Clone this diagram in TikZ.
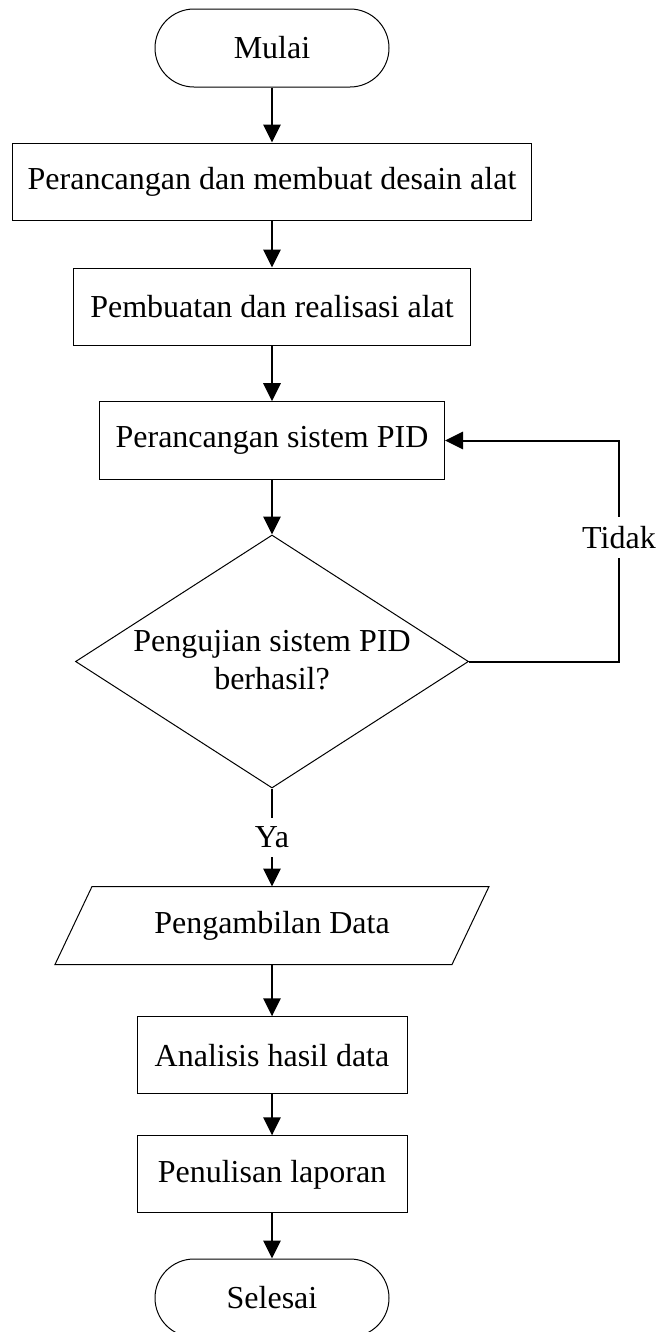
\documentclass[tikz,border=0pt]{standalone}
\usepackage{fontspec}
\setmainfont{Liberation Serif}
\usetikzlibrary{arrows.meta,shapes.geometric,shapes.misc}
\newdimen\pxu \pxu=0.75pt
\begin{document}
\begin{tikzpicture}[x=0.75pt, y=-0.75pt,
  base/.style={font=\fontsize{24pt}{28.7pt}\selectfont, line width=0.75pt},
  procbox/.style={base, draw, rectangle, inner sep=0pt, minimum height=77\pxu},
  term/.style={base, draw, rounded rectangle, minimum width=234\pxu, minimum height=78\pxu, inner sep=0pt},
  flow/.style={line width=1.5pt, -{Triangle[length=13.5pt,width=13pt]}},
  lbl/.style={base, fill=white, inner xsep=1pt, inner ysep=6.7pt}]
\clip (0,0) rectangle (657,1332);
\node[term] (start) at (272,48) {Mulai};
\node[procbox, minimum width=519\pxu] (b1) at (272,181.5) {Perancangan dan membuat desain alat};
\node[procbox, minimum width=397\pxu] (b2) at (272,306.5) {Pembuatan dan realisasi alat};
\node[procbox, minimum width=345\pxu, minimum height=77.6\pxu] (b3) at (272,440.5) {Perancangan sistem PID};
\node[base, draw, diamond, minimum width=393\pxu, minimum height=253\pxu, inner sep=0pt] (dia) at (272,661.5) {};
\node[base, align=center, inner sep=0pt] (diatext) at (272,660) {Pengujian sistem PID\\berhasil?};
\node[base, minimum width=396\pxu, minimum height=77\pxu, inner sep=0pt] (par) at (272,925.5) {Pengambilan Data};
\draw[line width=0.75pt] ([xshift=18.5\pxu]par.north west) -- ([xshift=18.5\pxu]par.north east) -- ([xshift=-18.5\pxu]par.south east) -- ([xshift=-18.5\pxu]par.south west) -- cycle;
\node[procbox, minimum width=270\pxu] (b4) at (272,1055.3) {Analisis hasil data};
\node[procbox, minimum width=270\pxu] (b5) at (272,1174.3) {Penulisan laporan};
\node[term] (end) at (272,1298) {Selesai};
\draw[flow] (start.south) -- (b1.north);
\draw[flow] (b1.south) -- (b2.north);
\draw[flow] (b2.south) -- (b3.north);
\draw[flow] (b3.south) -- (dia.north);
\coordinate (fbc) at (619,661.5);
\draw[flow] (dia.east) -- (fbc) |- (b3.east);
\node[lbl] (tidak) at (619,537.5) {Tidak};
\draw[flow] (dia.south) -- node[lbl] (ya) {Ya} (par.north);
\draw[flow] (par.south) -- (b4.north);
\draw[flow] (b4.south) -- (b5.north);
\draw[flow] (b5.south) -- (end.north);
\end{tikzpicture}
\end{document}
